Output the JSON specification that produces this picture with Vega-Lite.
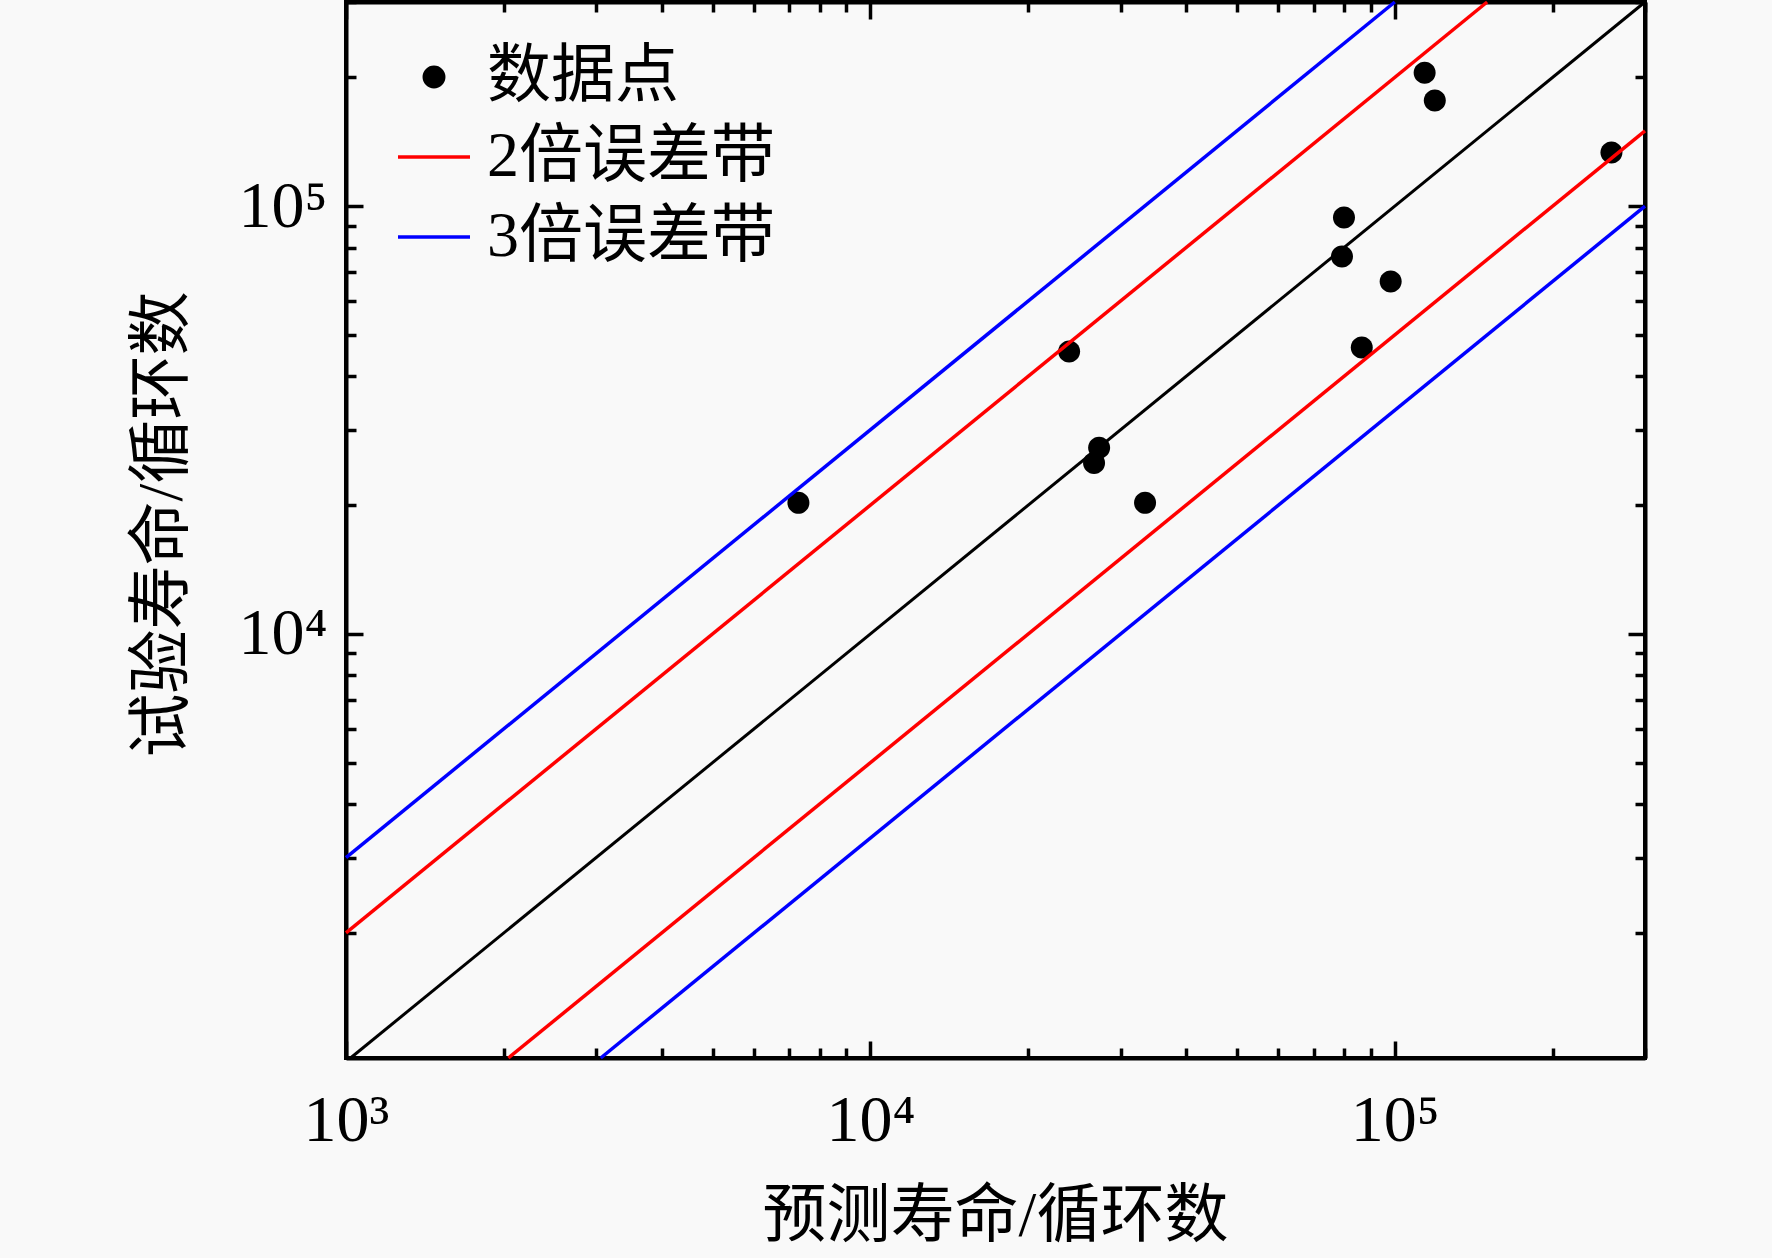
{
  "$schema": "https://vega.github.io/schema/vega-lite/v6.json",
  "autosize": {"type": "none"},
  "width": 1299,
  "height": 1056,
  "padding": {"left": 346, "top": 2, "right": 127, "bottom": 200},
  "background": "#f9f9f9",
  "config": {
    "view": {"stroke": "black", "strokeWidth": 4, "fill": "#f9f9f9"},
    "font": "Liberation Serif, Noto Sans CJK SC",
    "axis": {
      "grid": false,
      "domainColor": "black",
      "domainWidth": 4,
      "tickColor": "black",
      "tickWidth": 3.5,
      "labelFont": "Liberation Serif",
      "labelFontSize": 66,
      "labelColor": "black",
      "labelFlush": false,
      "labelOverlap": false,
      "titleFont": "Liberation Serif, Noto Sans CJK SC",
      "titleFontSize": 64,
      "titleFontWeight": "normal",
      "titleColor": "black"
    },
    "legend": {
      "title": null,
      "orient": "none",
      "legendX": 50,
      "legendY": 37,
      "padding": 0,
      "rowPadding": 10,
      "symbolSize": 5184,
      "symbolStrokeWidth": 3.5,
      "labelFont": "Liberation Serif, Noto Sans CJK SC",
      "labelFontSize": 64,
      "labelColor": "black",
      "labelOffset": 15,
      "labelLimit": 0
    }
  },
  "layer": [
    {
      "data": {
        "values": [
          {"pred": 7290, "test": 20250, "series": "数据点"},
          {"pred": 23930, "test": 45700, "series": "数据点"},
          {"pred": 26700, "test": 25100, "series": "数据点"},
          {"pred": 27300, "test": 27230, "series": "数据点"},
          {"pred": 33400, "test": 20250, "series": "数据点"},
          {"pred": 79300, "test": 76200, "series": "数据点"},
          {"pred": 80000, "test": 94000, "series": "数据点"},
          {"pred": 86500, "test": 46700, "series": "数据点"},
          {"pred": 98200, "test": 66600, "series": "数据点"},
          {"pred": 114000, "test": 205000, "series": "数据点"},
          {"pred": 119200, "test": 176500, "series": "数据点"},
          {"pred": 258900, "test": 133400, "series": "数据点"}
        ]
      },
      "mark": {"type": "point", "filled": true, "opacity": 1, "size": 6640},
      "encoding": {
        "x": {
          "field": "pred",
          "type": "quantitative",
          "scale": {"type": "log", "domain": [1000, 300000], "nice": false},
          "axis": {
            "orient": "bottom",
            "values": [1000, 2000, 3000, 4000, 5000, 6000, 7000, 8000, 9000, 10000, 20000, 30000, 40000, 50000, 60000, 70000, 80000, 90000, 100000, 200000, 300000],
            "tickSize": {"condition": {"test": "datum.value == 1000 || datum.value == 10000 || datum.value == 100000", "value": -17}, "value": -10},
            "labelExpr": "datum.value == 1000 ? '10³' : datum.value == 10000 ? '10⁴' : datum.value == 100000 ? '10⁵' : ''",
            "labelBaseline": "alphabetic",
            "labelPadding": 99,
            "title": "预测寿命/循环数",
            "titleX": 649,
            "titleY": 158,
            "titleBaseline": "middle",
            "titleAlign": "center"
          }
        },
        "y": {
          "field": "test",
          "type": "quantitative",
          "scale": {"type": "log", "domain": [1020, 300000], "nice": false},
          "axis": {
            "orient": "left",
            "values": [2000, 3000, 4000, 5000, 6000, 7000, 8000, 9000, 10000, 20000, 30000, 40000, 50000, 60000, 70000, 80000, 90000, 100000, 200000, 300000],
            "tickSize": {"condition": {"test": "datum.value == 10000 || datum.value == 100000", "value": -17}, "value": -10},
            "labelExpr": "datum.value == 10000 ? '10⁴' : datum.value == 100000 ? '10⁵' : ''",
            "labelBaseline": "middle",
            "labelPadding": 36,
            "title": "试验寿命/循环数",
            "titleX": -184,
            "titleY": 522,
            "titleAngle": -90,
            "titleBaseline": "middle",
            "titleAlign": "center"
          }
        },
        "color": {
          "field": "series",
          "type": "nominal",
          "scale": {"domain": ["数据点", "2倍误差带", "3倍误差带"], "range": ["black", "red", "blue"]}
        },
        "shape": {
          "field": "series",
          "type": "nominal",
          "scale": {
            "domain": ["数据点", "2倍误差带", "3倍误差带"],
            "range": ["M-0.27,0A0.27,0.27,0,1,1,0.27,0A0.27,0.27,0,1,1,-0.27,0Z", "stroke", "stroke"]
          }
        }
      }
    },
    {
      "data": {
        "values": [
          {"pred": 1000, "test": 2000, "series": "2倍误差带", "line": "r_up"},
          {"pred": 150000, "test": 300000, "series": "2倍误差带", "line": "r_up"},
          {"pred": 2040, "test": 1020, "series": "2倍误差带", "line": "r_low"},
          {"pred": 300000, "test": 150000, "series": "2倍误差带", "line": "r_low"},
          {"pred": 1000, "test": 3000, "series": "3倍误差带", "line": "b_up"},
          {"pred": 100000, "test": 300000, "series": "3倍误差带", "line": "b_up"},
          {"pred": 3060, "test": 1020, "series": "3倍误差带", "line": "b_low"},
          {"pred": 300000, "test": 100000, "series": "3倍误差带", "line": "b_low"}
        ]
      },
      "mark": {"type": "line", "strokeWidth": 3.5},
      "encoding": {
        "x": {"field": "pred", "type": "quantitative", "axis": null},
        "y": {"field": "test", "type": "quantitative", "axis": null},
        "color": {"field": "series", "type": "nominal"},
        "detail": {"field": "line"}
      }
    },
    {
      "data": {
        "values": [
          {"pred": 1020, "test": 1020},
          {"pred": 300000, "test": 300000}
        ]
      },
      "mark": {"type": "line", "color": "black", "strokeWidth": 3},
      "encoding": {
        "x": {
          "field": "pred",
          "type": "quantitative",
          "axis": {
            "orient": "top",
            "values": [1000, 2000, 3000, 4000, 5000, 6000, 7000, 8000, 9000, 10000, 20000, 30000, 40000, 50000, 60000, 70000, 80000, 90000, 100000, 200000, 300000],
            "tickSize": {"condition": {"test": "datum.value == 1000 || datum.value == 10000 || datum.value == 100000", "value": -17}, "value": -10},
            "labels": false,
            "title": null
          }
        },
        "y": {
          "field": "test",
          "type": "quantitative",
          "axis": {
            "orient": "right",
            "values": [2000, 3000, 4000, 5000, 6000, 7000, 8000, 9000, 10000, 20000, 30000, 40000, 50000, 60000, 70000, 80000, 90000, 100000, 200000, 300000],
            "tickSize": {"condition": {"test": "datum.value == 10000 || datum.value == 100000", "value": -17}, "value": -10},
            "labels": false,
            "title": null
          }
        }
      }
    }
  ],
  "resolve": {"axis": {"x": "independent", "y": "independent"}}
}
